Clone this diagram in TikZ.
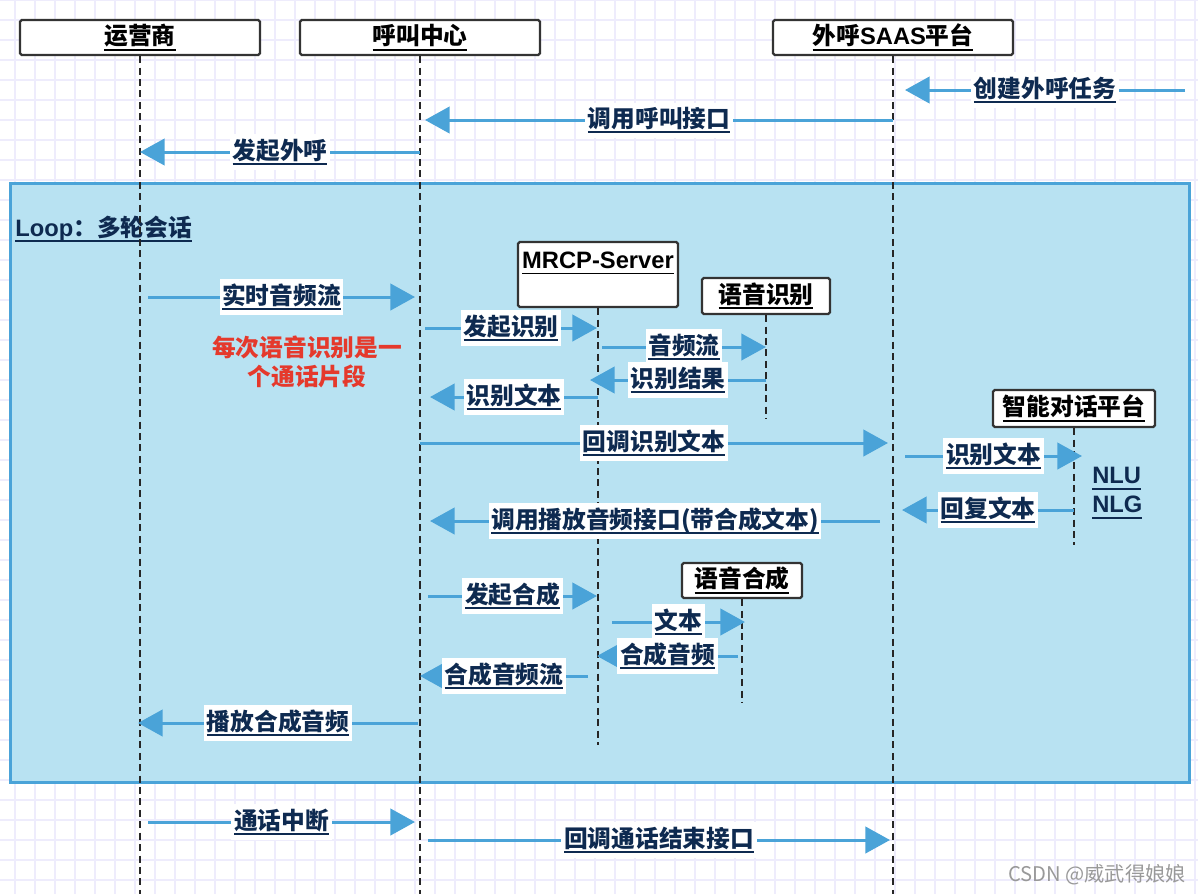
\documentclass[tikz,border=0pt]{standalone}
\usepackage{fontspec}
\setmainfont{Noto Sans CJK SC}
\newfontfamily\latfont{Liberation Sans}
\usepackage{tikz}
\usetikzlibrary{arrows.meta, positioning}

\definecolor{msgblue}{HTML}{4AA3D8}
\definecolor{loopfill}{HTML}{B8E2F2}
\definecolor{navy}{HTML}{0E2A50}
\definecolor{gridc}{HTML}{EEECFC}
\definecolor{notered}{HTML}{E5392C}

% thick underline
\newcommand{\uln}[1]{\setbox0=\hbox{#1}\rlap{\vrule width \wd0 height -2.3pt depth 3.4pt}\box0}

\begin{document}
\begin{tikzpicture}[x=0.02cm, y=-0.02cm, >={Triangle[length=14pt,width=15pt]},
  actor/.style={draw=black!80, line width=1.3pt, fill=white, rounded corners=1pt,
    inner sep=0pt, font=\bfseries\fontsize{13.5}{16}\selectfont},
  life/.style={draw=black!85, line width=1.2pt, dash pattern=on 4pt off 2.5pt},
  msg/.style={->, draw=msgblue, line width=1.7pt},
  lbl/.style={fill=white, text=navy, inner xsep=1.5pt, inner ysep=2.5pt,
    font=\bfseries\fontsize{13.5}{16}\selectfont},
  gridline/.style={draw=gridc, line width=0.8pt}]
  \useasboundingbox (0,0) rectangle (1198,894);

  % Background grid
  \fill[white] (0,0) rectangle (1198,894);
  \foreach \gx in {15,35,...,1195} \draw[gridline] (\gx,0) -- (\gx,894);
  \foreach \gy in {0,20,...,880} \draw[gridline] (0,\gy) -- (1198,\gy);

  % Loop frame
  \node[draw=msgblue, line width=1.7pt, fill=loopfill, minimum width=23.6cm,
    minimum height=12cm] (loop) at (600,483) {};
  \node[anchor=west, text=navy, inner sep=0pt, font=\bfseries\fontsize{13.5}{16}\selectfont]
    (looptitle) at (15,229) {\uln{{\latfont Loop}：多轮会话}};

  % Participants
  \node[actor, minimum width=4.8cm, minimum height=0.7cm] (op) at (140,37.5) {\uln{运营商}};
  \node[actor, minimum width=4.8cm, minimum height=0.7cm] (cc) at (420,37.5) {\uln{呼叫中心}};
  \node[actor, minimum width=4.8cm, minimum height=0.7cm] (saas) at (893,37.5) {\uln{外呼{\latfont SAAS}平台}};
  \node[actor, minimum width=3.2cm, minimum height=1.3cm, text height=0.4cm, text depth=0.64cm]
    (mrcp) at (598,274.5) {\uln{\latfont MRCP-Server}};
  \node[actor, minimum width=2.56cm, minimum height=0.72cm] (asr) at (766,296) {\uln{语音识别}};
  \node[actor, minimum width=3.24cm, minimum height=0.74cm] (dlg) at (1074,408.5) {\uln{智能对话平台}};
  \node[actor, minimum width=2.4cm, minimum height=0.7cm] (tts) at (742,580.5) {\uln{语音合成}};

  % Lifelines
  \coordinate (opEnd) at (140,894);
  \coordinate (ccEnd) at (420,894);
  \coordinate (saasEnd) at (893,894);
  \coordinate (mrcpEnd) at (598,745);
  \coordinate (asrEnd) at (766,418);
  \coordinate (dlgEnd) at (1074,545);
  \coordinate (ttsEnd) at (742,703);
  \draw[life] (op.south) -- (opEnd);
  \draw[life] (cc.south) -- (ccEnd);
  \draw[life] (saas.south) -- (saasEnd);
  \draw[life] (mrcp.south) -- (mrcpEnd);
  \draw[life] (asr.south) -- (asrEnd);
  \draw[life] (dlg.south) -- (dlgEnd);
  \draw[life] (tts.south) -- (ttsEnd);

  % Call setup
  \coordinate (task0) at (1185,90);  \coordinate (task1) at (905,90);
  \coordinate (api0) at (893,120);   \coordinate (api1) at (425,120);
  \coordinate (dial0) at (420,152);  \coordinate (dial1) at (140,152);
  \draw[msg] (task0) -- node[lbl] (task) {\uln{创建外呼任务}} (task1);
  \draw[msg] (api0) -- node[lbl] (api) {\uln{调用呼叫接口}} (api1);
  \draw[msg] (dial0) -- node[lbl] (dial) {\uln{发起外呼}} (dial1);

  % Recognition
  \coordinate (rt0) at (148,297);    \coordinate (rt1) at (415,297);
  \coordinate (asrq0) at (425,328);  \coordinate (asrq1) at (597,328);
  \coordinate (strm0) at (602,347);  \coordinate (strm1) at (766,347);
  \coordinate (asrr0) at (766,380);  \coordinate (asrr1) at (590,380);
  \coordinate (asrt0) at (598,397);  \coordinate (asrt1) at (430,397);
  \coordinate (cbt0) at (420,443);   \coordinate (cbt1) at (888,443);
  \draw[msg] (rt0) -- node[lbl] (rt) {\uln{实时音频流}} (rt1);
  \draw[msg] (asrq0) -- node[lbl] (asrq) {\uln{发起识别}} (asrq1);
  \draw[msg] (strm0) -- node[lbl] (strm) {\uln{音频流}} (strm1);
  \draw[msg] (asrr0) -- node[lbl] (asrr) {\uln{识别结果}} (asrr1);
  \draw[msg] (asrt0) -- node[lbl] (asrt) {\uln{识别文本}} (asrt1);
  \draw[msg] (cbt0) -- node[lbl] (cbt) {\uln{回调识别文本}} (cbt1);
  \node[text=notered, align=center, font=\bfseries\fontsize{13.5}{16.4}\selectfont]
    (note) at (307,362) {每次语音识别是一\\个通话片段};

  % Dialogue
  \coordinate (din0) at (905,456);   \coordinate (din1) at (1082,456);
  \coordinate (dout0) at (1074,510); \coordinate (dout1) at (902,510);
  \coordinate (play0) at (880,521);  \coordinate (play1) at (430,521);
  \draw[msg] (din0) -- node[lbl] (din) {\uln{识别文本}} (din1);
  \draw[msg] (dout0) -- node[lbl] (dout) {\uln{回复文本}} (dout1);
  \draw[msg] (play0) -- node[lbl] (play) {\uln{调用播放音频接口(带合成文本)}} (play1);
  \node[anchor=west, align=left, text=navy, inner sep=0pt,
    font=\bfseries\latfont\fontsize{13.5}{16.4}\selectfont]
    (nlu) at (1092,493) {\uln{NLU}\\\uln{NLG}};

  % Synthesis
  \coordinate (ttq0) at (428,596);   \coordinate (ttq1) at (597,596);
  \coordinate (ttx0) at (612,622);   \coordinate (ttx1) at (745,622);
  \coordinate (tta0) at (738,656);   \coordinate (tta1) at (597,656);
  \coordinate (tts0) at (588,676);   \coordinate (tts1) at (420,676);
  \coordinate (pa0) at (418,723);    \coordinate (pa1) at (138,723);
  \draw[msg] (ttq0) -- node[lbl] (ttq) {\uln{发起合成}} (ttq1);
  \draw[msg] (ttx0) -- node[lbl] (ttx) {\uln{文本}} (ttx1);
  \draw[msg] (tta0) -- node[lbl] (tta) {\uln{合成音频}} (tta1);
  \draw[msg] (tts0) -- node[lbl] (ttsa) {\uln{合成音频流}} (tts1);
  \draw[msg] (pa0) -- node[lbl] (pa) {\uln{播放合成音频}} (pa1);

  % Hang up
  \coordinate (hu0) at (148,822);    \coordinate (hu1) at (415,822);
  \coordinate (cbe0) at (428,840);   \coordinate (cbe1) at (890,840);
  \draw[msg] (hu0) -- node[lbl] (hu) {\uln{通话中断}} (hu1);
  \draw[msg] (cbe0) -- node[lbl] (cbe) {\uln{回调通话结束接口}} (cbe1);

  \node[text=black!40, font=\fontsize{11.5}{14}\selectfont] (mark) at (1097,875) {CSDN @威武得娘娘};
\end{tikzpicture}
\end{document}
